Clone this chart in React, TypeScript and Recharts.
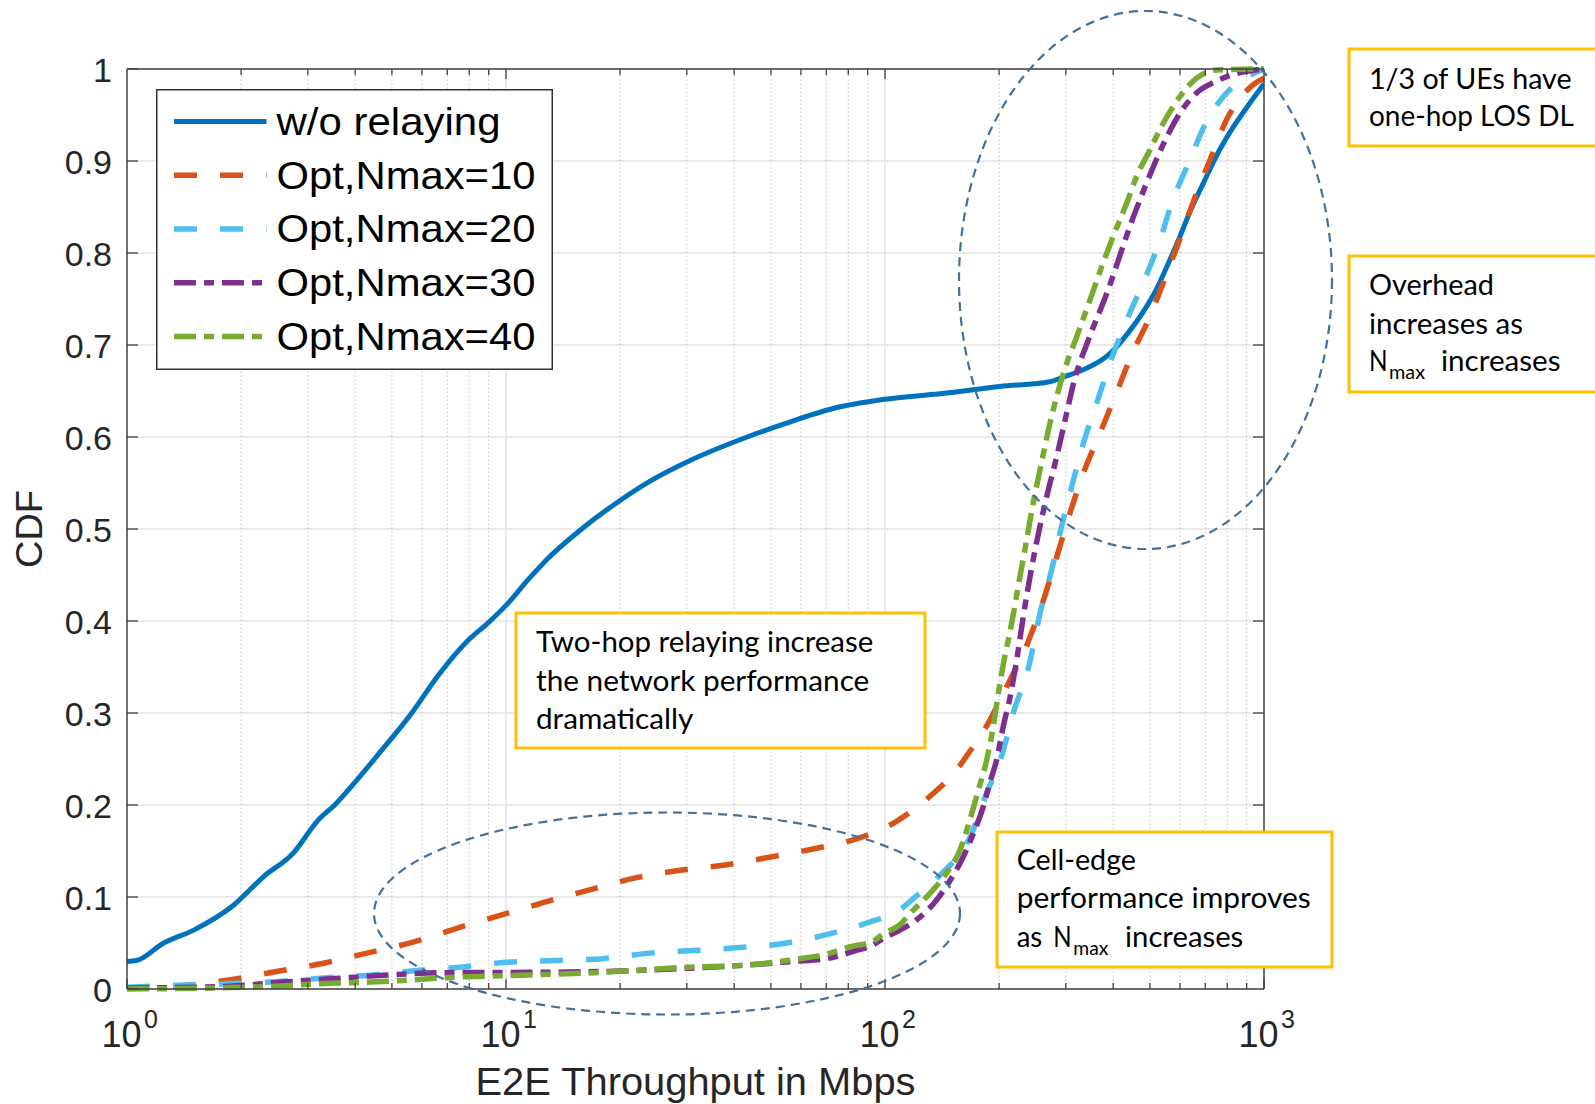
import React from 'react';
import {
  LineChart,
  Line,
  XAxis,
  YAxis,
  CartesianGrid,
  ReferenceLine,
  Legend,
} from 'recharts';

// ---- data (x in Mbps, y = CDF) ----
const woRelaying: [number, number][] = [
  [1, 0.030], [1.06, 0.031], [1.25, 0.050], [1.5, 0.064], [1.91, 0.091], [2.29, 0.122],
  [2.75, 0.148], [3.17, 0.182], [3.57, 0.202], [4.04, 0.227], [4.56, 0.253], [5.64, 0.300],
  [6.6, 0.340], [7.9, 0.378], [8.97, 0.398], [10, 0.417], [11.5, 0.446], [12.9, 0.468],
  [15.2, 0.494], [17, 0.510], [20, 0.531], [24, 0.552], [30.8, 0.575], [43.3, 0.600],
  [54, 0.614], [73, 0.631], [100, 0.641], [148, 0.648], [201, 0.655], [272, 0.660],
  [295, 0.665], [333, 0.673], [377, 0.685], [400, 0.694], [434, 0.711], [480, 0.736],
  [521, 0.761], [554, 0.785], [600, 0.818], [638, 0.845], [692, 0.876], [750, 0.906],
  [830, 0.937], [918, 0.963], [1000, 0.984],
];

const optN10: [number, number][] = [
  [1, 0.001], [1.44, 0.004], [1.87, 0.010], [2.48, 0.019], [3.3, 0.028], [4.29, 0.039],
  [5.69, 0.051], [7.41, 0.066], [9.64, 0.080], [12.8, 0.095], [16.7, 0.108], [22.1, 0.121],
  [28.8, 0.129], [38.2, 0.135], [50.7, 0.144], [66, 0.153], [86.8, 0.165], [107, 0.182],
  [131, 0.209], [154.5, 0.238], [164, 0.253], [189, 0.292], [205, 0.321], [218, 0.343],
  [232, 0.365], [241.5, 0.383], [262, 0.423], [284, 0.470], [308, 0.518], [334, 0.561],
  [369, 0.604], [408, 0.648], [446, 0.688], [500, 0.731], [559, 0.782], [612, 0.825],
  [658, 0.861], [720, 0.901], [797, 0.945], [937, 0.983], [1000, 0.990],
];

const optN20: [number, number][] = [
  [1, 0.002], [1.87, 0.006], [2.48, 0.008], [3.3, 0.012], [4.38, 0.015], [5.81, 0.020],
  [7.72, 0.024], [10, 0.029], [13.6, 0.031], [18, 0.033], [24, 0.039], [31.9, 0.042],
  [41.4, 0.045], [55, 0.050], [73, 0.061], [93, 0.074], [109.5, 0.086], [120, 0.100],
  [140, 0.124], [168, 0.166], [185.5, 0.213], [203, 0.253], [218, 0.300], [240, 0.352],
  [256.4, 0.408], [275, 0.455], [292.5, 0.503], [311, 0.546], [333.6, 0.593], [362, 0.637],
  [395, 0.684], [438.5, 0.731], [485, 0.772], [531.6, 0.814], [570.7, 0.854], [631, 0.897],
  [706, 0.943], [797, 0.974], [918, 0.993], [1000, 1.0],
];

const optN30: [number, number][] = [
  [1, 0.001], [1.87, 0.003], [2.48, 0.007], [3.3, 0.0105], [4.38, 0.014], [5.9, 0.017],
  [7.9, 0.018], [10, 0.018], [17.7, 0.019], [30, 0.0225], [43.2, 0.026], [57.3, 0.030],
  [70.2, 0.033], [82.5, 0.041], [93, 0.048], [99, 0.055], [109.5, 0.064], [121, 0.075],
  [137, 0.097], [148.5, 0.118], [161, 0.144], [171, 0.169], [181.6, 0.198], [189, 0.224],
  [197, 0.249], [205, 0.285], [214, 0.318], [222, 0.355], [234, 0.416], [244, 0.459],
  [254, 0.495], [267, 0.535], [284, 0.579], [298.5, 0.618], [317, 0.664], [340, 0.700],
  [384.6, 0.756], [452, 0.839], [490, 0.876], [554, 0.926], [600, 0.952], [664, 0.974],
  [750, 0.987], [864, 0.996], [1000, 1.0],
];

const optN40: [number, number][] = [
  [1, 0.0], [1.87, 0.0015], [2.48, 0.003], [3.3, 0.006], [4.38, 0.0076], [5.69, 0.010],
  [7.41, 0.013], [9.84, 0.0145], [17.7, 0.018], [30, 0.0236], [43.2, 0.026], [57.3, 0.032],
  [70.2, 0.038], [81, 0.046], [93, 0.052], [99, 0.060], [109.5, 0.070], [116.4, 0.082],
  [131.4, 0.104], [145.4, 0.126], [157.7, 0.151], [167.6, 0.184], [176.3, 0.216],
  [185.5, 0.249], [193, 0.285], [199, 0.321], [205, 0.352], [216, 0.398], [227, 0.448],
  [236.4, 0.488], [246, 0.528], [256.4, 0.564], [272.5, 0.615], [295.5, 0.669],
  [320.5, 0.709], [347.5, 0.749], [373, 0.785], [400, 0.818], [434, 0.854], [461, 0.883],
  [500, 0.912], [542, 0.941], [600, 0.970], [664, 0.990], [750, 0.999], [1000, 1.0],
];

const X_MAJOR = [1, 10, 100, 1000];
const X_MINOR = [2, 3, 4, 5, 6, 7, 8, 9, 20, 30, 40, 50, 60, 70, 80, 90, 200, 300, 400, 500, 600, 700, 800, 900];
const X_TICKS = [...X_MAJOR, ...X_MINOR].sort((a, b) => a - b);
const Y_TICKS = [0, 0.1, 0.2, 0.3, 0.4, 0.5, 0.6, 0.7, 0.8, 0.9, 1];

// ---- styling ----
const AXIS_FONT = '"Liberation Sans", Arial, Helvetica, sans-serif';
const NOTE_FONT = 'Lato, "Open Sans", sans-serif';
const AXIS_COLOR = '#404040';
const TEXT_COLOR = '#262626';
const GRID_COLOR = '#e3e3e3';
const NOTE_BORDER = '#FFC000';
const CIRCLE_COLOR = '#41719C';

const W = 1595;
const H = 1104;
const PLOT = { left: 127, right: 1264, top: 69, bottom: 989 };
const PX_PER_DECADE = (PLOT.right - PLOT.left) / 3;
const PX_PER_UNIT_Y = PLOT.bottom - PLOT.top;

const toPoints = (arr: [number, number][]) => arr.map(([x, y]) => ({ x, y }));

const SERIES = [
  { key: 'wo', name: 'w/o relaying', data: toPoints(woRelaying), color: '#0072BD', width: 5, dash: undefined as string | undefined, textLen: 224 },
  { key: 'n10', name: 'Opt,Nmax=10', data: toPoints(optN10), color: '#D95319', width: 5.5, dash: '23 23', textLen: 259 },
  { key: 'n20', name: 'Opt,Nmax=20', data: toPoints(optN20), color: '#4DBEEE', width: 5.5, dash: '23 23', textLen: 259 },
  { key: 'n30', name: 'Opt,Nmax=30', data: toPoints(optN30), color: '#7E2F8E', width: 5.5, dash: '22 8 10 8', textLen: 259 },
  { key: 'n40', name: 'Opt,Nmax=40', data: toPoints(optN40), color: '#77AC30', width: 5.5, dash: '22 8 10 8', textLen: 259 },
];

// text pieces for the callout boxes: [text, x, baseline, width, subscript?]
type Piece = [string, number, number, number, boolean?];
const NOTES: { x: number; y: number; w: number; h: number; pieces: Piece[] }[] = [
  {
    x: 1349, y: 49, w: 262, h: 97,
    pieces: [
      ['1/3 of UEs have', 1369, 88.6, 202.6],
      ['one-hop LOS DL', 1369, 125.7, 204.8],
    ],
  },
  {
    x: 1349, y: 256, w: 262, h: 136,
    pieces: [
      ['Overhead', 1369, 294.6, 125],
      ['increases as', 1369, 334, 154],
      ['N', 1369, 371.4, 18.6],
      ['max', 1389, 378.6, 36, true],
      ['increases', 1441, 371.4, 119.5],
    ],
  },
  {
    x: 516, y: 613, w: 409, h: 135,
    pieces: [
      ['Two-hop relaying increase', 536, 652, 337.3],
      ['the network performance', 536, 690.5, 333.3],
      ['dramatically', 536, 728.5, 157.3],
    ],
  },
  {
    x: 997, y: 832, w: 335, h: 135,
    pieces: [
      ['Cell-edge', 1016.7, 870, 119.3],
      ['performance improves', 1016.7, 908.3, 294],
      ['as', 1016.7, 947.3, 25.6],
      ['N', 1053.3, 947.3, 18.4],
      ['max', 1073.3, 955, 35, true],
      ['increases', 1125, 947.3, 118.3],
    ],
  },
];

const ELLIPSES = [
  { cx: 1145.5, cy: 280, rx: 186.5, ry: 269 },
  { cx: 667, cy: 913.5, rx: 293, ry: 101 },
];

// ---- MATLAB-style inward ticks ----
const BottomTick = (props: any) => {
  const { x, y, payload } = props;
  const v = payload.value as number;
  const major = X_MAJOR.includes(v);
  return (
    <g>
      <line x1={x} x2={x} y1={y} y2={y - (major ? 10 : 6)} stroke={AXIS_COLOR} strokeWidth={1.3} />
      {major && (
        <text fill={TEXT_COLOR} fontFamily={AXIS_FONT} fontSize={36}>
          <tspan x={x - 25.5} y={y + 58}>10</tspan>
          <tspan x={x + 17} y={y + 39} fontSize={25}>{Math.round(Math.log10(v))}</tspan>
        </text>
      )}
    </g>
  );
};

const LeftTick = (props: any) => {
  const { x, y, payload } = props;
  const v = payload.value as number;
  return (
    <g>
      <line x1={x} x2={x + 11} y1={y} y2={y} stroke={AXIS_COLOR} strokeWidth={1.3} />
      <text x={x - 15} y={y + 12.5} textAnchor="end" fill={TEXT_COLOR} fontFamily={AXIS_FONT} fontSize={34}>
        {String(Math.round(v * 10) / 10)}
      </text>
    </g>
  );
};

const XTitle = () => (
  <text
    x={(PLOT.left + PLOT.right) / 2}
    y={1095}
    textAnchor="middle"
    fill={TEXT_COLOR}
    fontFamily={AXIS_FONT}
    fontSize={39}
    textLength={440}
    lengthAdjust="spacingAndGlyphs"
  >
    E2E Throughput in Mbps
  </text>
);

const YTitle = () => (
  <text
    transform={`translate(41.5, ${(PLOT.top + PLOT.bottom) / 2}) rotate(-90)`}
    textAnchor="middle"
    fill={TEXT_COLOR}
    fontFamily={AXIS_FONT}
    fontSize={37}
    textLength={78}
    lengthAdjust="spacingAndGlyphs"
  >
    CDF
  </text>
);

const LegendBox = () => (
  <svg width={397} height={281} style={{ display: 'block' }}>
    <rect x={0.75} y={0.75} width={395.5} height={279.5} fill="#fff" stroke="#333" strokeWidth={1.5} />
    {SERIES.map((s, i) => {
      const cy = 32.4 + i * 53.75;
      return (
        <g key={s.key}>
          <line x1={18} x2={110.5} y1={cy} y2={cy} stroke={s.color} strokeWidth={s.width} strokeDasharray={s.dash} />
          <text
            x={120.5}
            y={cy + 13.5}
            fill="#000"
            fontFamily={AXIS_FONT}
            fontSize={39}
            textLength={s.textLen}
            lengthAdjust="spacingAndGlyphs"
          >
            {s.name}
          </text>
        </g>
      );
    })}
  </svg>
);

// mirrored ticks on the top and right edges of the box, in data units
const topTickDrop = (v: number) => (X_MAJOR.includes(v) ? 10 : 6) / PX_PER_UNIT_Y;
const rightTickStart = 1000 / Math.pow(10, 11 / PX_PER_DECADE);

export default function App() {
  return (
    <div style={{ position: 'absolute', left: 0, top: 0, width: W, height: H, background: '#fff', overflow: 'hidden' }}>
      <LineChart
        width={W}
        height={H}
        margin={{ top: PLOT.top, right: W - PLOT.right, bottom: 0, left: 0 }}
      >
        <CartesianGrid vertical={false} stroke={GRID_COLOR} strokeWidth={1.5} />
        {X_MINOR.map((v) => (
          <ReferenceLine key={`m${v}`} x={v} stroke="#c2c2c2" strokeWidth={1} strokeDasharray="1.5 2.5" />
        ))}
        {[10, 100].map((v) => (
          <ReferenceLine key={`M${v}`} x={v} stroke={GRID_COLOR} strokeWidth={1.5} />
        ))}
        <XAxis
          dataKey="x"
          type="number"
          scale="log"
          domain={[1, 1000]}
          allowDataOverflow
          ticks={X_TICKS}
          interval={0}
          height={H - PLOT.bottom}
          tickSize={0}
          tickMargin={0}
          tickLine={false}
          axisLine={{ stroke: AXIS_COLOR, strokeWidth: 1.5 }}
          tick={<BottomTick />}
          label={<XTitle />}
        />
        <YAxis
          type="number"
          domain={[0, 1]}
          ticks={Y_TICKS}
          interval={0}
          width={PLOT.left}
          tickSize={0}
          tickMargin={0}
          tickLine={false}
          axisLine={{ stroke: AXIS_COLOR, strokeWidth: 1.5 }}
          tick={<LeftTick />}
          label={<YTitle />}
        />
        <Legend
          layout="vertical"
          align="center"
          verticalAlign="middle"
          wrapperStyle={{ left: 156, top: 89, width: 397, height: 281, margin: 0, padding: 0 }}
          content={() => <LegendBox />}
        />
        {SERIES.map((s) => (
          <Line
            key={s.key}
            data={s.data}
            dataKey="y"
            name={s.name}
            type="monotone"
            stroke={s.color}
            strokeWidth={s.width}
            strokeDasharray={s.dash}
            dot={false}
            activeDot={false}
            isAnimationActive={false}
          />
        ))}
        {/* box edges and mirrored ticks */}
        <ReferenceLine y={1} stroke={AXIS_COLOR} strokeWidth={1.5} />
        <ReferenceLine x={1000} stroke={AXIS_COLOR} strokeWidth={1.5} />
        {X_TICKS.filter((v) => v > 1 && v < 1000).map((v) => (
          <ReferenceLine
            key={`tt${v}`}
            segment={[{ x: v, y: 1 }, { x: v, y: 1 - topTickDrop(v) }]}
            stroke={AXIS_COLOR}
            strokeWidth={1.3}
          />
        ))}
        {Y_TICKS.filter((v) => v > 0 && v < 1).map((v) => (
          <ReferenceLine
            key={`rt${v}`}
            segment={[{ x: rightTickStart, y: v }, { x: 1000, y: v }]}
            stroke={AXIS_COLOR}
            strokeWidth={1.3}
          />
        ))}
      </LineChart>

      {/* callouts drawn over the chart */}
      <svg width={W} height={H} style={{ position: 'absolute', left: 0, top: 0, pointerEvents: 'none' }}>
        {ELLIPSES.map((e, i) => (
          <ellipse key={i} {...e} fill="none" stroke={CIRCLE_COLOR} strokeWidth={2.2} strokeDasharray="9 6" />
        ))}
        {NOTES.map((n, i) => (
          <g key={i}>
            <rect x={n.x} y={n.y} width={n.w} height={n.h} fill="#fff" stroke={NOTE_BORDER} strokeWidth={3} />
            {n.pieces.map(([t, x, y, w, sub], j) => (
              <text
                key={j}
                x={x}
                y={y}
                fill="#000"
                fontFamily={NOTE_FONT}
                fontSize={sub ? 20 : 29}
                textLength={w}
                lengthAdjust="spacingAndGlyphs"
              >
                {t}
              </text>
            ))}
          </g>
        ))}
      </svg>
    </div>
  );
}
